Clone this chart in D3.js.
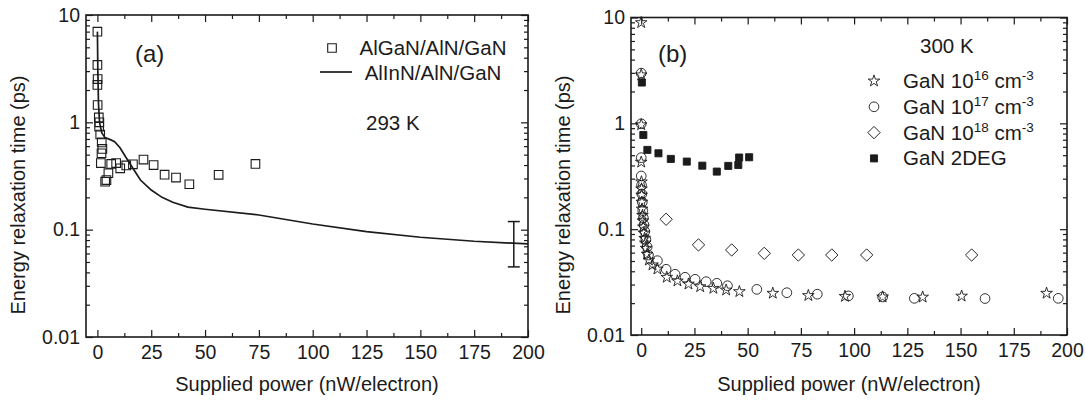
<!DOCTYPE html>
<html>
<head>
<meta charset="utf-8">
<script src="https://cdn.jsdelivr.net/npm/d3@7"></script>
<style>
  body { margin: 0; background: #fff; }
  svg { font-family: "Liberation Sans", Arial, Helvetica, sans-serif; }
</style>
</head>
<body>
<svg id="chart" width="1085" height="403"></svg>
<script>
// ---- data, panel (a) ----
var alganPts = [[0, 7.0], [0, 3.43], [0.1, 2.53], [0, 2.23], [0.1, 1.45], [0.65, 1.11], [0.9, 1.0], [0.8, 0.91],
  [1.3, 0.77], [2.0, 0.65], [2.3, 0.565], [1.9, 0.515], [1.6, 0.417], [3.6, 0.28], [4.2, 0.29], [5.1, 0.336],
  [6.4, 0.41], [8.7, 0.417], [10.6, 0.373], [13.4, 0.397], [16.5, 0.406], [21.4, 0.45], [26.1, 0.40],
  [31.2, 0.325], [36.5, 0.306], [42.7, 0.265], [56.3, 0.324], [73.4, 0.41]];
var alinnLine = [[0, 7], [0.2, 3], [0.5, 1.5], [1, 1.0], [2, 0.8], [3.5, 0.72], [6, 0.69], [8, 0.66], [10.5, 0.58],
  [13, 0.48], [17, 0.36], [20, 0.29], [25, 0.234], [30, 0.2], [35, 0.18], [42, 0.162], [50, 0.155], [75, 0.137],
  [100, 0.113], [125, 0.096], [150, 0.085], [175, 0.078], [200, 0.0736]];
var errBar = { x: 193.4, lo: 0.045, hi: 0.119 };

// ---- data, panel (b) ----
var gan16 = [[0, 8.95], [0, 2.87], [0, 0.97], [0, 0.43], [0.1, 0.28], [0.15, 0.24], [0.2, 0.21], [0.3, 0.18],
  [0.4, 0.155], [0.6, 0.135], [0.8, 0.12], [1.0, 0.105], [1.3, 0.092], [1.6, 0.082], [1.9, 0.074], [2.3, 0.066],
  [2.8, 0.058], [3.6, 0.051], [5.3, 0.046], [7.6, 0.042], [12, 0.0351], [17, 0.0324], [22.2, 0.0303],
  [27.7, 0.0286], [33.9, 0.0276], [39.9, 0.0266], [46.1, 0.0257], [61.8, 0.0248], [78.5, 0.0236],
  [95.7, 0.0232], [113.4, 0.0229], [132.2, 0.0228], [150.5, 0.0233], [190.4, 0.0248]];
var gan17 = [[0, 2.98], [0, 0.99], [0, 0.474], [0, 0.318], [0.15, 0.26], [0.3, 0.215], [0.5, 0.18], [0.7, 0.15],
  [1.0, 0.128], [1.3, 0.11], [1.7, 0.095], [2.2, 0.08], [2.8, 0.068], [3.4, 0.057], [7.6, 0.0504],
  [11.7, 0.0418], [15.9, 0.0375], [20.6, 0.0351], [25.3, 0.0336], [30.5, 0.0319], [35.5, 0.0308],
  [40.5, 0.0292], [54.3, 0.027], [68.4, 0.0251], [82.7, 0.0243], [97.3, 0.0234], [113.4, 0.0229],
  [128.3, 0.0222], [161.5, 0.0221], [195.9, 0.0222]];
var gan18 = [[11.7, 0.124], [26.9, 0.071], [42.5, 0.0636], [57.8, 0.0591], [73.8, 0.057], [89.5, 0.057],
  [105.9, 0.057], [155.2, 0.057]];
var gan2deg = [[0.3, 2.43], [1, 0.776], [2.9, 0.561], [8.1, 0.521], [13.9, 0.461], [21.4, 0.435], [28.7, 0.398],
  [35.5, 0.35], [40.9, 0.396], [45.6, 0.404], [46, 0.475], [50.7, 0.478]];

// ---- ticks ----
var xTicks = [0, 25, 50, 75, 100, 125, 150, 175, 200];
var xMinor = [12.5, 37.5, 62.5, 87.5, 112.5, 137.5, 162.5, 187.5];
var yTicks = [0.01, 0.1, 1, 10];
var yMinor = [];
[0.01, 0.1, 1].forEach(function (dec) {
  for (var k = 2; k <= 9; k++) yMinor.push(k * dec);
});

var ink = "#1b1b1b";
var svg = d3.select("#chart");

function frame(x, y, title) {
  var g = svg.append("g");
  var xr = x.range(), yr = y.range();

  function addAxis(axis, tx, ty) {
    var a = g.append("g").attr("transform", "translate(" + tx + "," + ty + ")").call(axis);
    a.select(".domain").remove();
    a.selectAll("line").attr("stroke", ink).attr("stroke-width", 1.2);
    a.selectAll("text").attr("fill", ink).style("font-size", "19.5px");
    return a;
  }
  // major + minor ticks, all pointing inwards
  addAxis(d3.axisBottom(x).tickValues(xTicks).tickSizeInner(-7).tickSizeOuter(0).tickPadding(8), 0, yr[0]);
  addAxis(d3.axisBottom(x).tickValues(xMinor).tickSizeInner(-4).tickSizeOuter(0).tickFormat(""), 0, yr[0]);
  addAxis(d3.axisTop(x).tickValues(xTicks).tickSizeInner(-7).tickSizeOuter(0).tickFormat(""), 0, yr[1]);
  addAxis(d3.axisTop(x).tickValues(xMinor).tickSizeInner(-4).tickSizeOuter(0).tickFormat(""), 0, yr[1]);
  addAxis(d3.axisLeft(y).tickValues(yTicks).tickSizeInner(-7).tickSizeOuter(0).tickPadding(6)
    .tickFormat(function (d) { return String(d); }), xr[0], 0);
  addAxis(d3.axisLeft(y).tickValues(yMinor).tickSizeInner(-4).tickSizeOuter(0).tickFormat(""), xr[0], 0);
  addAxis(d3.axisRight(y).tickValues(yTicks).tickSizeInner(-7).tickSizeOuter(0).tickFormat(""), xr[1], 0);
  addAxis(d3.axisRight(y).tickValues(yMinor).tickSizeInner(-4).tickSizeOuter(0).tickFormat(""), xr[1], 0);

  g.append("rect")
    .attr("x", xr[0]).attr("y", yr[1])
    .attr("width", xr[1] - xr[0]).attr("height", yr[0] - yr[1])
    .attr("fill", "none").attr("stroke", ink).attr("stroke-width", 1.6);

  g.append("text")
    .attr("x", (xr[0] + xr[1]) / 2).attr("y", 391)
    .attr("text-anchor", "middle").attr("fill", ink).style("font-size", "20px")
    .text("Supplied power (nW/electron)");
  g.append("text")
    .attr("transform", "translate(" + (xr[0] - 61) + ",195) rotate(-90)")
    .attr("text-anchor", "middle").attr("fill", ink).style("font-size", "20px")
    .text("Energy relaxation time (ps)");
  g.append("text")
    .attr("x", title.x).attr("y", title.y).attr("fill", ink).style("font-size", "24px")
    .text(title.text);
  return g;
}

function sym(type, size) {
  return d3.symbol().type(type).size(size)();
}

// ---- panel (a) ----
var xa = d3.scaleLinear().domain([-5.3, 200]).range([86, 528]);
var ya = d3.scaleLog().domain([0.01, 10]).range([337, 15]);
var ga = frame(xa, ya, { x: 135, y: 62, text: "(a)" });

ga.append("path")
  .datum(alinnLine)
  .attr("d", d3.line().x(function (d) { return xa(d[0]); }).y(function (d) { return ya(d[1]); }))
  .attr("fill", "none").attr("stroke", ink).attr("stroke-width", 1.7);

ga.selectAll(".sq").data(alganPts).enter().append("path")
  .attr("transform", function (d) { return "translate(" + xa(d[0]) + "," + ya(d[1]) + ")"; })
  .attr("d", sym(d3.symbolSquare, 74))
  .attr("fill", "none").attr("stroke", ink).attr("stroke-width", 1.1);

var eb = ga.append("g").attr("stroke", ink).attr("stroke-width", 1.5);
eb.append("line").attr("x1", xa(errBar.x)).attr("x2", xa(errBar.x)).attr("y1", ya(errBar.lo)).attr("y2", ya(errBar.hi));
[errBar.lo, errBar.hi].forEach(function (v) {
  eb.append("line").attr("x1", xa(errBar.x) - 6).attr("x2", xa(errBar.x) + 6).attr("y1", ya(v)).attr("y2", ya(v));
});

// legend (a)
ga.append("path").attr("transform", "translate(332,48)").attr("d", sym(d3.symbolSquare, 74))
  .attr("fill", "none").attr("stroke", ink).attr("stroke-width", 1.1);
ga.append("line").attr("x1", 320).attr("x2", 352).attr("y1", 72).attr("y2", 72)
  .attr("stroke", ink).attr("stroke-width", 1.7);
ga.append("text").attr("x", 433).attr("y", 55).attr("text-anchor", "middle").attr("fill", ink)
  .style("font-size", "20.5px").text("AlGaN/AlN/GaN");
ga.append("text").attr("x", 433).attr("y", 80).attr("text-anchor", "middle").attr("fill", ink)
  .style("font-size", "20.5px").text("AlInN/AlN/GaN");
ga.append("text").attr("x", 366).attr("y", 130).attr("fill", ink).style("font-size", "20.5px").text("293 K");

// ---- panel (b) ----
var xb = d3.scaleLinear().domain([-4.8, 200]).range([631, 1067]);
var yb = d3.scaleLog().domain([0.01, 10]).range([335, 17.5]);
var gb = frame(xb, yb, { x: 658, y: 62, text: "(b)" });

var seriesB = [
  { data: gan18, d: sym(d3.symbolSquare, 76), rot: 45, fill: "none" },
  { data: gan17, d: sym(d3.symbolCircle, 74), rot: 0, fill: "none" },
  { data: gan16, d: sym(d3.symbolStar, 42), rot: 0, fill: "none" },
  { data: gan2deg, d: sym(d3.symbolSquare, 50), rot: 0, fill: ink }
];
seriesB.forEach(function (s) {
  gb.append("g").selectAll("path").data(s.data).enter().append("path")
    .attr("transform", function (d) {
      return "translate(" + xb(d[0]) + "," + yb(d[1]) + ") rotate(" + s.rot + ")";
    })
    .attr("d", s.d)
    .attr("fill", s.fill).attr("stroke", ink).attr("stroke-width", 0.9);
});

// legend (b)
gb.append("text").attr("x", 920).attr("y", 53).attr("fill", ink).style("font-size", "20.5px").text("300 K");
var legB = [
  { s: seriesB[2], sup: "16" },
  { s: seriesB[1], sup: "17" },
  { s: seriesB[0], sup: "18" },
  { s: seriesB[3], sup: null }
];
legB.forEach(function (l, i) {
  var cy = 81 + i * 25.8;
  gb.append("path")
    .attr("transform", "translate(874," + cy + ") rotate(" + l.s.rot + ")")
    .attr("d", l.s.d).attr("fill", l.s.fill).attr("stroke", ink).attr("stroke-width", 0.9);
  var t = gb.append("text").attr("x", 903).attr("y", cy + 7).attr("fill", ink).style("font-size", "20.5px");
  if (l.sup) {
    t.append("tspan").text("GaN 10");
    t.append("tspan").attr("dy", -8).style("font-size", "13.5px").text(l.sup);
    t.append("tspan").attr("dy", 8).text(" cm");
    t.append("tspan").attr("dy", -8).style("font-size", "13.5px").text("-3");
  } else {
    t.text("GaN 2DEG");
  }
});
</script>
</body>
</html>
